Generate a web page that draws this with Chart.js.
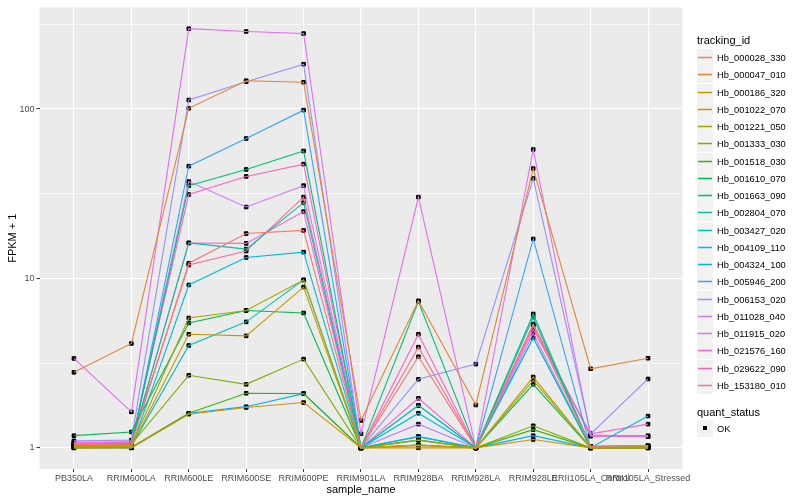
<!DOCTYPE html>
<html>
<head>
<meta charset="utf-8">
<script src="https://cdn.jsdelivr.net/npm/chart.js@4/dist/chart.umd.min.js"></script>
<style>
  body { margin: 0; background: #fff; font-family: "Liberation Sans", Arial, sans-serif; }
  #wrap { position: relative; width: 800px; height: 500px; }
  #legend { position: absolute; left: 697px; top: 0; width: 103px; height: 500px; font-size: 9.3px; color: #000; }
  .ttl { position: absolute; left: 0; font-size: 11px; line-height: 14px; }
  .row { position: absolute; left: 0; height: 17px; display: flex; align-items: center; }
  .key { width: 16px; height: 17px; background: #F2F2F2; position: relative; margin-right: 4px; }
  .key i { position: absolute; left: 1px; right: 1px; top: 8px; height: 1px; transform: scaleY(1.5); }
  .key b { position: absolute; left: 6px; top: 6px; width: 4px; height: 4px; background: #000; }
</style>
</head>
<body>
<div id="wrap">
  <canvas id="myChart" width="800" height="500"></canvas>
  <div id="legend"></div>
</div>
<script>
const categories = ['PB350LA', 'RRIM600LA', 'RRIM600LE', 'RRIM600SE', 'RRIM600PE', 'RRIM901LA',
  'RRIM928BA', 'RRIM928LA', 'RRIM928LE', 'RRII105LA_Control', 'RRII105LA_Stressed'];

const trackingIds = ['Hb_000028_330', 'Hb_000047_010', 'Hb_000186_320', 'Hb_001022_070', 'Hb_001221_050',
  'Hb_001333_030', 'Hb_001518_030', 'Hb_001610_070', 'Hb_001663_090', 'Hb_002804_070',
  'Hb_003427_020', 'Hb_004109_110', 'Hb_004324_100', 'Hb_005946_200', 'Hb_006153_020',
  'Hb_011028_040', 'Hb_011915_020', 'Hb_021576_160', 'Hb_029622_090', 'Hb_153180_010'];

const colors = ['#F8766D', '#EA8331', '#D89000', '#C09B00', '#A3A500', '#7CAE00', '#39B600', '#00BB4E',
  '#00BF7D', '#00C1A3', '#00BFC4', '#00BAE0', '#00B0F6', '#35A2FF', '#9590FF', '#C77CFF',
  '#E76BF3', '#FA62DB', '#FF62BC', '#FF6C91'];

// FPKM + 1, one row per tracking_id, one value per sample_name
const fpkm = [
  [1.05, 1.04, 12.3, 18.4, 19.2, 1.0, 3.45, 1.0, 5.27, 1.02, 1.03],
  [2.79, 4.13, 101, 147, 144, 1.45, 7.38, 1.79, 44.5, 2.93, 3.38],
  [1.0, 1.0, 1.58, 1.73, 1.85, 1.0, 1.03, 1.0, 1.12, 1.0, 1.0],
  [1.02, 1.02, 4.68, 4.58, 8.89, 1.0, 1.0, 1.0, 2.62, 1.0, 1.01],
  [1.01, 1.03, 5.84, 6.47, 9.8, 1.0, 1.04, 1.0, 2.5, 1.01, 1.0],
  [1.03, 1.05, 2.68, 2.37, 3.34, 1.0, 1.11, 1.0, 1.35, 1.0, 1.02],
  [1.0, 1.01, 1.6, 2.1, 2.09, 1.0, 1.11, 1.0, 1.28, 1.0, 1.0],
  [1.18, 1.24, 5.46, 6.47, 6.25, 1.0, 1.04, 1.0, 2.37, 1.0, 1.0],
  [1.02, 1.03, 35.3, 44, 56.5, 1.0, 7.3, 1.0, 5.9, 1.0, 1.02],
  [1.04, 1.06, 16.2, 14.9, 28, 1.0, 1.78, 1.0, 6.17, 1.02, 1.03],
  [1.01, 1.02, 4.02, 5.54, 9.8, 1.0, 1.78, 1.0, 4.46, 1.0, 1.02],
  [1.03, 1.0, 9.15, 13.3, 14.3, 1.0, 1.6, 1.0, 4.46, 1.0, 1.54],
  [1.0, 1.0, 1.6, 1.75, 2.09, 1.0, 1.165, 1.0, 1.18, 1.0, 1.0],
  [1.02, 1.02, 46, 67, 98.5, 1.0, 1.165, 1.0, 17.1, 1.0, 1.01],
  [1.1, 1.11, 113, 145, 184, 1.0, 2.54, 3.12, 38.9, 1.21, 2.55],
  [1.06, 1.05, 37.3, 26.4, 35.3, 1.0, 1.38, 1.0, 4.75, 1.0, 1.03],
  [3.37, 1.63, 298, 287, 279, 1.21, 30.2, 1.0, 57.7, 1.19, 1.165],
  [1.08, 1.07, 16.2, 16.1, 24.8, 1.0, 1.96, 1.0, 5.0, 1.21, 1.38],
  [1.05, 1.08, 31.3, 40, 47.3, 1.0, 4.68, 1.0, 5.27, 1.17, 1.165],
  [1.07, 1.09, 12.0, 14.5, 30.2, 1.0, 3.93, 1.0, 5.38, 1.18, 1.18]
];

const yMajor = [1, 10, 100];
const yMinor = [3.1623, 31.623, 316.23];

const toPoints = row => row.map((v, i) => ({ x: i, y: v }));

// lines first, then all the points on top (like ggplot layers)
const lineSets = fpkm.map((row, i) => ({
  label: trackingIds[i],
  data: toPoints(row),
  borderColor: colors[i],
  borderWidth: 1.1,
  pointRadius: 0,
  tension: 0,
  fill: false
}));
const pointSets = fpkm.map((row, i) => ({
  label: trackingIds[i] + ' OK',
  data: toPoints(row),
  showLine: false,
  pointStyle: 'rect',
  pointRadius: 2.5,
  backgroundColor: '#000',
  borderColor: '#000',
  pointBackgroundColor: '#000',
  pointBorderColor: '#000',
  pointBorderWidth: 1
}));

const panelBg = {
  id: 'panelBg',
  beforeDraw(chart) {
    const { ctx, chartArea: a } = chart;
    ctx.save();
    ctx.fillStyle = '#EBEBEB';
    ctx.fillRect(a.left, a.top, a.right - a.left, a.bottom - a.top);
    ctx.restore();
  }
};

const ctx = document.getElementById('myChart').getContext('2d');
new Chart(ctx, {
  type: 'line',
  data: { datasets: lineSets.concat(pointSets) },
  options: {
    responsive: false,
    animation: false,
    layout: { padding: { top: 3, right: 117.5, left: 0, bottom: 0 } },
    plugins: { legend: { display: false }, tooltip: { enabled: false } },
    scales: {
      x: {
        type: 'linear',
        min: -0.6,
        max: 10.6,
        afterBuildTicks: s => { s.ticks = categories.map((c, i) => ({ value: i })); },
        afterFit: s => { s.height = 31; },
        ticks: {
          callback: (v, i) => categories[i],
          autoSkip: false,
          maxRotation: 0,
          color: '#4D4D4D',
          font: { family: 'Liberation Sans', size: 9 },
          padding: 1
        },
        grid: { color: '#FFFFFF', lineWidth: 1.1, tickLength: 3, tickColor: '#333333', tickWidth: 1 },
        border: { display: false },
        title: { display: true, text: 'sample_name', color: '#000', font: { family: 'Liberation Sans', size: 11 }, padding: { top: 0, bottom: 3 } }
      },
      y: {
        type: 'logarithmic',
        min: 0.75,
        max: 398,
        afterBuildTicks: s => { s.ticks = yMajor.concat(yMinor).sort((a, b) => a - b).map(v => ({ value: v })); },
        afterFit: s => { s.width = 39.5; },
        ticks: {
          callback: v => yMajor.includes(v) ? String(v) : '',
          color: '#4D4D4D',
          font: { family: 'Liberation Sans', size: 9 },
          padding: 2
        },
        grid: {
          color: '#FFFFFF',
          lineWidth: c => (c.tick && yMajor.includes(c.tick.value)) ? 1.1 : 0.55,
          tickLength: 3,
          tickColor: c => (c.tick && yMajor.includes(c.tick.value)) ? '#333333' : 'rgba(0,0,0,0)',
          tickWidth: 1
        },
        border: { display: false },
        title: { display: true, text: 'FPKM + 1', color: '#000', font: { family: 'Liberation Sans', size: 11 }, padding: { top: 6, bottom: 2 } }
      }
    }
  },
  plugins: [panelBg]
});

// ggplot style legend on the right, rows snapped to whole pixels
const legend = document.getElementById('legend');
let html = '<div class="ttl" style="top:33px">tracking_id</div>';
trackingIds.forEach((id, i) => {
  const top = Math.round(49 + i * 17.25);
  html += '<div class="row" style="top:' + top + 'px"><div class="key"><i style="background:' + colors[i] + '"></i></div>' + id + '</div>';
});
html += '<div class="ttl" style="top:405px">quant_status</div>';
html += '<div class="row" style="top:420px"><div class="key"><b></b></div>OK</div>';
legend.innerHTML = html;
</script>
</body>
</html>
